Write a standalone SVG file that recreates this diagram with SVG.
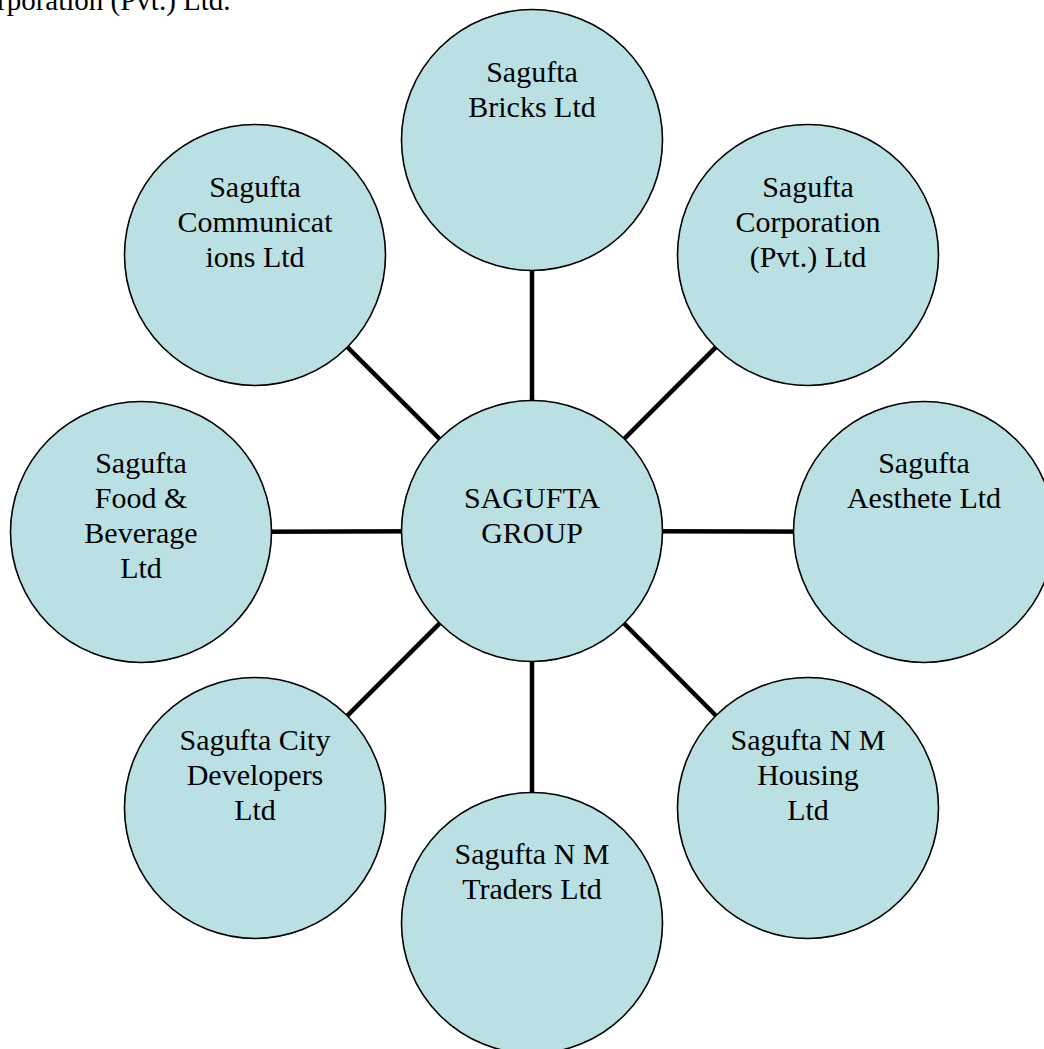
<svg xmlns="http://www.w3.org/2000/svg" width="1044" height="1049" viewBox="0 0 1044 1049">
<style>
.n{fill:#BAE0E4;stroke:#000;stroke-width:1.6}
.t{font-family:"Liberation Serif","Times New Roman",serif;font-size:30px;fill:#000;text-anchor:middle}
.c{stroke:#000;stroke-width:4.5;fill:none}
</style>
<rect width="1044" height="1049" fill="#fff"/>
<text x="-3" y="10" style="font-family:'Liberation Serif',serif;font-size:29px;fill:#000">rporation (Pvt.) Ltd.</text>
<g id="connectors">
<line class="c" x1="532" y1="531" x2="532" y2="140"/>
<line class="c" x1="532" y1="531" x2="808" y2="255"/>
<line class="c" x1="532" y1="531" x2="924" y2="532"/>
<line class="c" x1="532" y1="531" x2="808" y2="808"/>
<line class="c" x1="532" y1="531" x2="532" y2="923"/>
<line class="c" x1="532" y1="531" x2="255" y2="808"/>
<line class="c" x1="532" y1="531" x2="141" y2="532"/>
<line class="c" x1="532" y1="531" x2="255" y2="255"/>
</g>
<g id="center">
<circle class="n" cx="532" cy="531" r="130.5"/>
<text class="t"><tspan x="532" y="508">SAGUFTA</tspan><tspan x="532" y="543">GROUP</tspan></text>
</g>
<g id="bricks">
<circle class="n" cx="532" cy="140" r="130.5"/>
<text class="t"><tspan x="532" y="82">Sagufta</tspan><tspan x="532" y="117">Bricks Ltd</tspan></text>
</g>
<g id="corporation">
<circle class="n" cx="808" cy="255" r="130.5"/>
<text class="t"><tspan x="808" y="197">Sagufta</tspan><tspan x="808" y="232">Corporation</tspan><tspan x="808" y="267">(Pvt.) Ltd</tspan></text>
</g>
<g id="aesthete">
<circle class="n" cx="924" cy="532" r="130.5"/>
<text class="t"><tspan x="924" y="473">Sagufta</tspan><tspan x="924" y="508">Aesthete Ltd</tspan></text>
</g>
<g id="housing">
<circle class="n" cx="808" cy="808" r="130.5"/>
<text class="t"><tspan x="808" y="750">Sagufta N M</tspan><tspan x="808" y="785">Housing</tspan><tspan x="808" y="820">Ltd</tspan></text>
</g>
<g id="traders">
<circle class="n" cx="532" cy="923" r="130.5"/>
<text class="t"><tspan x="532" y="864">Sagufta N M</tspan><tspan x="532" y="899">Traders Ltd</tspan></text>
</g>
<g id="city">
<circle class="n" cx="255" cy="808" r="130.5"/>
<text class="t"><tspan x="255" y="750">Sagufta City</tspan><tspan x="255" y="785">Developers</tspan><tspan x="255" y="820">Ltd</tspan></text>
</g>
<g id="food">
<circle class="n" cx="141" cy="532" r="130.5"/>
<text class="t"><tspan x="141" y="473">Sagufta</tspan><tspan x="141" y="508">Food &amp;</tspan><tspan x="141" y="543">Beverage</tspan><tspan x="141" y="578">Ltd</tspan></text>
</g>
<g id="communications">
<circle class="n" cx="255" cy="255" r="130.5"/>
<text class="t"><tspan x="255" y="197">Sagufta</tspan><tspan x="255" y="232">Communicat</tspan><tspan x="255" y="267">ions Ltd</tspan></text>
</g>
</svg>
